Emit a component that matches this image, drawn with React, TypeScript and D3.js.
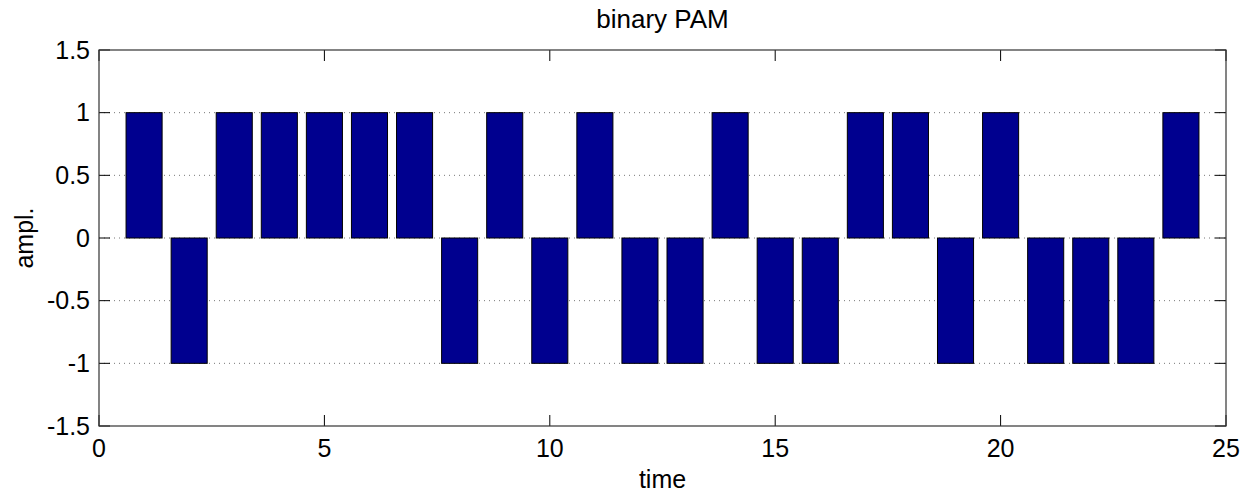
import React from "react";
import * as d3 from "d3";

const times = [1, 2, 3, 4, 5, 6, 7, 8, 9, 10, 11, 12, 13, 14, 15, 16, 17, 18, 19, 20, 21, 22, 23, 24];
const ampl = [1, -1, 1, 1, 1, 1, 1, -1, 1, -1, 1, -1, -1, 1, -1, -1, 1, 1, -1, 1, -1, -1, -1, 1];
const xTicks = [0, 5, 10, 15, 20, 25];
const yTicks = [-1.5, -1, -0.5, 0, 0.5, 1, 1.5];
const barWidth = 0.8;
const title = "binary PAM";
const xLabel = "time";
const yLabel = "ampl.";

export default function App() {
  const W = 1245, H = 495;
  const L = 99, R = 1226, T = 50, B = 426;
  const x = d3.scaleLinear().domain([0, 25]).range([L, R]);
  const y = d3.scaleLinear().domain([-1.5, 1.5]).range([B, T]);
  const font = "'Liberation Sans', Arial, Helvetica, sans-serif";
  const fs = 25;
  const tick = 11;
  const fmt = (v: number) => String(v);
  return (
    <svg width={W} height={H} style={{ position: "absolute", left: 0, top: 0, background: "#fff" }}>
      <rect x={0} y={0} width={W} height={H} fill="#fff" />
      {/* grid */}
      {yTicks.filter(v => v > -1.5 && v < 1.5).map(v => (
        <line key={"g" + v} x1={L} x2={R} y1={y(v)} y2={y(v)} stroke="#777" strokeWidth={1} strokeDasharray="1,4" />
      ))}
      {/* bars */}
      {times.map((t, i) => {
        const v = ampl[i];
        const x0 = x(t - barWidth / 2), x1 = x(t + barWidth / 2);
        const y0 = y(Math.max(0, v)), y1 = y(Math.min(0, v));
        return <rect key={"b" + i} x={x0} y={y0} width={x1 - x0} height={y1 - y0} fill="#00008f" stroke="#000" strokeWidth={1} />;
      })}
      {/* ticks */}
      {xTicks.map(v => (
        <g key={"xt" + v}>
          <line x1={x(v)} x2={x(v)} y1={B} y2={B - tick} stroke="#000" />
          <line x1={x(v)} x2={x(v)} y1={T} y2={T + tick} stroke="#000" />
          <text x={x(v)} y={457} textAnchor="middle" fontFamily={font} fontSize={fs}>{fmt(v)}</text>
        </g>
      ))}
      {yTicks.map(v => (
        <g key={"yt" + v}>
          <line x1={L} x2={L + tick} y1={y(v)} y2={y(v)} stroke="#000" />
          <line x1={R} x2={R - tick} y1={y(v)} y2={y(v)} stroke="#000" />
          <text x={90} y={y(v)} dy="0.35em" textAnchor="end" fontFamily={font} fontSize={fs}>{fmt(v)}</text>
        </g>
      ))}
      {/* box */}
      <rect x={L} y={T} width={R - L} height={B - T} fill="none" stroke="#333" strokeWidth={1.2} />
      <text x={(L + R) / 2} y={28} textAnchor="middle" fontFamily={font} fontSize={26}>{title}</text>
      <text x={(L + R) / 2} y={488} textAnchor="middle" fontFamily={font} fontSize={fs}>{xLabel}</text>
      <text transform={`translate(33,${(T + B) / 2}) rotate(-90)`} textAnchor="middle" fontFamily={font} fontSize={fs}>{yLabel}</text>
    </svg>
  );
}
